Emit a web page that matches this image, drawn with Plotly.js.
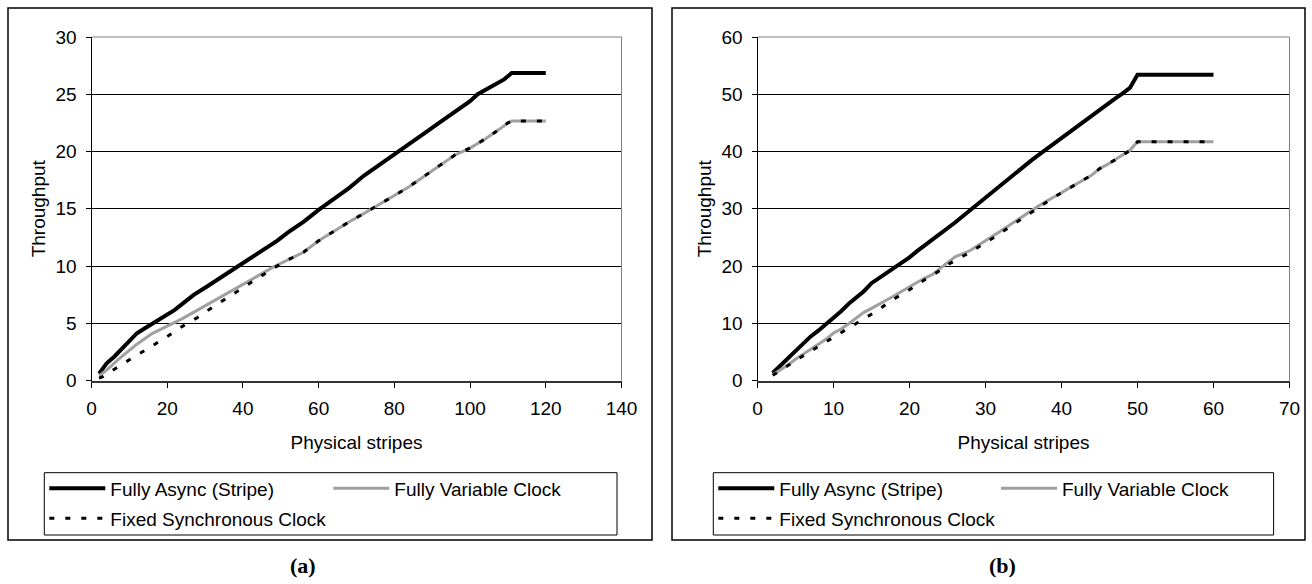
<!DOCTYPE html>
<html>
<head>
<meta charset="utf-8">
<script src="https://cdn.plot.ly/plotly-3.0.1.min.js"></script>
<style>
html,body{margin:0;padding:0;background:#fff;}
#chart{width:1312px;height:584px;}
</style>
</head>
<body>
<div id="chart"></div>
<script>
// ---------- data ----------
var seriesNames = ["Fully Async (Stripe)", "Fully Variable Clock", "Fixed Synchronous Clock"];

// Chart (a)
var asyncA_x = [2, 3, 4, 6, 8, 10, 12, 14, 17, 20, 22, 25, 27, 30, 33, 36, 39, 42, 46, 49, 52, 56, 60, 64, 68, 72, 76, 80, 84, 88, 92, 96, 100, 102, 105, 108, 109, 111, 120];
var asyncA_y = [0.6, 1.1, 1.5, 2.08, 2.76, 3.45, 4.13, 4.54, 5.15, 5.76, 6.17, 6.95, 7.48, 8.1, 8.75, 9.37, 10.0, 10.6, 11.5, 12.2, 12.95, 13.85, 14.9, 15.8, 16.8, 17.9, 18.8, 19.75, 20.7, 21.6, 22.55, 23.5, 24.4, 25.0, 25.6, 26.2, 26.3, 26.85, 26.85];

var varA_x = [2, 4, 8, 12, 16, 20, 24, 28, 32, 36, 40, 44, 48, 52, 56, 60, 64, 68, 72, 76, 80, 84, 88, 92, 96, 100, 104, 108, 110, 111, 120];
var varA_y = [0.4, 0.9, 2.1, 3.17, 4.1, 4.75, 5.4, 6.15, 6.9, 7.65, 8.4, 9.15, 9.9, 10.55, 11.2, 12.2, 13.05, 13.85, 14.6, 15.35, 16.15, 16.95, 17.85, 18.75, 19.7, 20.3, 21.1, 22.0, 22.5, 22.66, 22.66];

var fixA_x = [2, 3, 7, 11, 15, 20, 24, 28, 32, 36, 40, 44, 48, 52, 56, 60, 64, 68, 72, 76, 80, 84, 88, 92, 96, 100, 104, 108, 110, 111, 120];
var fixA_y = [0.2, 0.33, 1.2, 2.0, 2.8, 3.83, 4.73, 5.5, 6.4, 7.25, 8.1, 8.95, 9.8, 10.55, 11.2, 12.2, 13.05, 13.85, 14.6, 15.35, 16.15, 16.95, 17.85, 18.75, 19.7, 20.3, 21.1, 22.0, 22.5, 22.66, 22.66];

// Chart (b)
var stripesB = [2, 3, 4, 5, 6, 7, 8, 9, 10, 11, 12, 13, 14, 15, 16, 17, 18, 19, 20, 21, 22, 23, 24, 25, 26, 27, 28, 29, 30, 31, 32, 33, 34, 35, 36, 37, 38, 39, 40, 41, 42, 43, 44, 45, 46, 47, 48, 49, 50, 60];
var asyncB_y = [1.3, 2.6, 4.0, 5.2, 6.5, 7.7, 8.7, 9.8, 10.8, 12.1, 13.4, 14.5, 15.6, 17.0, 17.9, 18.7, 19.6, 20.5, 21.5, 22.6, 23.6, 24.6, 25.4, 26.5, 27.6, 28.7, 29.8, 30.9, 32.0, 33.0, 34.1, 35.2, 36.3, 37.4, 38.4, 39.4, 40.4, 41.4, 42.4, 43.4, 44.3, 45.2, 46.2, 47.3, 48.2, 49.2, 50.1, 51.1, 53.4, 53.4];
var varB_y = [1.0, 1.8, 2.7, 3.7, 4.55, 5.5, 6.4, 7.2, 8.3, 9.0, 9.9, 10.9, 11.9, 12.6, 13.3, 14.1, 14.8, 15.6, 16.4, 17.1, 17.9, 18.5, 19.6, 20.6, 21.6, 22.2, 22.7, 23.6, 24.4, 25.2, 26.1, 27.0, 27.9, 28.7, 29.7, 30.5, 31.3, 32.0, 32.8, 33.6, 34.3, 35.1, 35.9, 37.0, 37.7, 38.5, 39.3, 40.2, 41.7, 41.7];
var fixB_y = [0.9, 1.7, 2.6, 3.5, 4.3, 5.15, 6.0, 6.8, 7.65, 8.4, 9.1, 10.0, 10.85, 11.6, 12.4, 13.4, 14.3, 15.1, 15.85, 16.8, 17.6, 18.4, 19.2, 20.2, 21.0, 21.7, 22.4, 23.3, 24.1, 24.9, 25.8, 26.7, 27.6, 28.4, 29.3, 30.2, 31.2, 32.0, 32.8, 33.6, 34.3, 35.1, 35.9, 37.0, 37.7, 38.5, 39.3, 40.2, 41.7, 41.7];

var captions = ["(a)", "(b)"];
var xTitle = "Physical stripes";
var yTitle = "Throughput";

// ---------- layout helpers ----------
var W = 1312, H = 584;
function px(x) { return x / W; }
function py(y) { return 1 - y / H; }

var FONT = "Liberation Sans, Arial, sans-serif";
var FS = 19;

var styleAsync = {color: "#000000", width: 4};
var styleVar = {color: "#a0a0a0", width: 3};
var styleFix = {color: "#000000", width: 3, dash: "5px,11px"};

var traces = [
  {x: asyncA_x, y: asyncA_y, name: seriesNames[0], mode: "lines", line: styleAsync, xaxis: "x", yaxis: "y", legend: "legend"},
  {x: varA_x, y: varA_y, name: seriesNames[1], mode: "lines", line: styleVar, xaxis: "x", yaxis: "y", legend: "legend2"},
  {x: fixA_x, y: fixA_y, name: seriesNames[2], mode: "lines", line: styleFix, xaxis: "x", yaxis: "y", legend: "legend3"},
  {x: stripesB, y: asyncB_y, name: seriesNames[0], mode: "lines", line: styleAsync, xaxis: "x2", yaxis: "y2", legend: "legend4"},
  {x: stripesB, y: varB_y, name: seriesNames[1], mode: "lines", line: styleVar, xaxis: "x2", yaxis: "y2", legend: "legend5"},
  {x: stripesB, y: fixB_y, name: seriesNames[2], mode: "lines", line: styleFix, xaxis: "x2", yaxis: "y2", legend: "legend6"}
];

var yDom = [py(380.5), py(37)];
var xDomA = [px(91.5), px(621.5)];
var xDomB = [px(757.5), px(1289.5)];

function xAxis(dom, range, dtick, anchor) {
  return {
    domain: dom, range: range, dtick: dtick, tick0: 0, anchor: anchor,
    showgrid: false, zeroline: false, showline: true, linecolor: "#333333", linewidth: 2,
    ticks: "outside", ticklen: 5, tickwidth: 1, tickcolor: "#000",
    ticklabelstandoff: 5,
    tickfont: {family: FONT, size: FS, color: "#000"},
    title: {text: xTitle, font: {family: FONT, size: FS, color: "#000"}, standoff: 17},
    fixedrange: true, automargin: false
  };
}
function yAxis(range, dtick, anchor) {
  return {
    domain: yDom, range: range, dtick: dtick, tick0: 0, anchor: anchor,
    showgrid: true, gridcolor: "#000000", gridwidth: 1, zeroline: false,
    showline: true, linecolor: "#000000", linewidth: 1,
    ticks: "outside", ticklen: 5, tickwidth: 1, tickcolor: "#000",
    ticklabelstandoff: 5,
    tickfont: {family: FONT, size: FS, color: "#000"},
    title: {text: yTitle, font: {family: FONT, size: FS, color: "#000"}, standoff: 4},
    fixedrange: true, automargin: false
  };
}
function overlayAxis(over, anchor, range, dtick) {
  return {overlaying: over, anchor: anchor, range: range, dtick: dtick, tick0: 0,
    ticks: "inside", ticklen: 5, tickwidth: 1, tickcolor: "#000",
    showticklabels: false, showgrid: false, zeroline: false, showline: false, fixedrange: true};
}

function legendAt(x, y) {
  return {x: px(x), y: py(y), xanchor: "left", yanchor: "middle", xref: "paper", yref: "paper",
    orientation: "h", bgcolor: "rgba(0,0,0,0)", borderwidth: 0, itemwidth: 56,
    font: {family: FONT, size: FS, color: "#000"}, itemclick: false, itemdoubleclick: false};
}

var shapes = [
  // outer frames
  {type: "rect", xref: "paper", yref: "paper", x0: px(8), x1: px(652), y0: py(540), y1: py(8), line: {color: "#000", width: 1.5}},
  {type: "rect", xref: "paper", yref: "paper", x0: px(672), x1: px(1305), y0: py(540), y1: py(8), line: {color: "#000", width: 1.5}},
  // legend boxes
  {type: "rect", xref: "paper", yref: "paper", x0: px(44.3), x1: px(617), y0: py(535), y1: py(472.7), line: {color: "#000", width: 1}},
  {type: "rect", xref: "paper", yref: "paper", x0: px(713.3), x1: px(1273.6), y0: py(535), y1: py(472.7), line: {color: "#000", width: 1}},
  // plot-area top / right borders (grey)
  {type: "line", xref: "x domain", yref: "y domain", x0: 0, x1: 1, y0: 1, y1: 1, line: {color: "#808080", width: 1}},
  {type: "line", xref: "x domain", yref: "y domain", x0: 1, x1: 1, y0: 0, y1: 1, line: {color: "#808080", width: 1}},
  {type: "line", xref: "x2 domain", yref: "y2 domain", x0: 0, x1: 1, y0: 1, y1: 1, line: {color: "#808080", width: 1}},
  {type: "line", xref: "x2 domain", yref: "y2 domain", x0: 1, x1: 1, y0: 0, y1: 1, line: {color: "#808080", width: 1}}
];

var annotations = [
  {text: "<b>" + captions[0] + "</b>", xref: "paper", yref: "paper", x: px(303), y: py(565), xanchor: "center", yanchor: "middle", showarrow: false,
   font: {family: "Liberation Serif, Times New Roman, serif", size: 22, color: "#000"}},
  {text: "<b>" + captions[1] + "</b>", xref: "paper", yref: "paper", x: px(1002), y: py(565), xanchor: "center", yanchor: "middle", showarrow: false,
   font: {family: "Liberation Serif, Times New Roman, serif", size: 22, color: "#000"}}
];

var layout = {
  width: W, height: H,
  margin: {l: 0, r: 0, t: 0, b: 0},
  paper_bgcolor: "#ffffff", plot_bgcolor: "#ffffff",
  font: {family: FONT, size: FS, color: "#000"},
  showlegend: true,
  xaxis: xAxis(xDomA, [0, 140], 20, "y"),
  yaxis: yAxis([0, 30], 5, "x"),
  xaxis2: xAxis(xDomB, [0, 70], 10, "y2"),
  yaxis2: yAxis([0, 60], 10, "x2"),
  xaxis3: overlayAxis("x", "y", [0, 140], 20),
  yaxis3: overlayAxis("y", "x", [0, 30], 5),
  xaxis4: overlayAxis("x2", "y2", [0, 70], 10),
  yaxis4: overlayAxis("y2", "x2", [0, 60], 10),
  legend: legendAt(44.3, 488.3),
  legend2: legendAt(328.3, 488.3),
  legend3: legendAt(44.3, 518.3),
  legend4: legendAt(713.3, 488.3),
  legend5: legendAt(996, 488.3),
  legend6: legendAt(713.3, 518.3),
  shapes: shapes,
  annotations: annotations,
  hovermode: false
};

Plotly.newPlot("chart", traces, layout, {staticPlot: true, displayModeBar: false});
</script>
</body>
</html>
